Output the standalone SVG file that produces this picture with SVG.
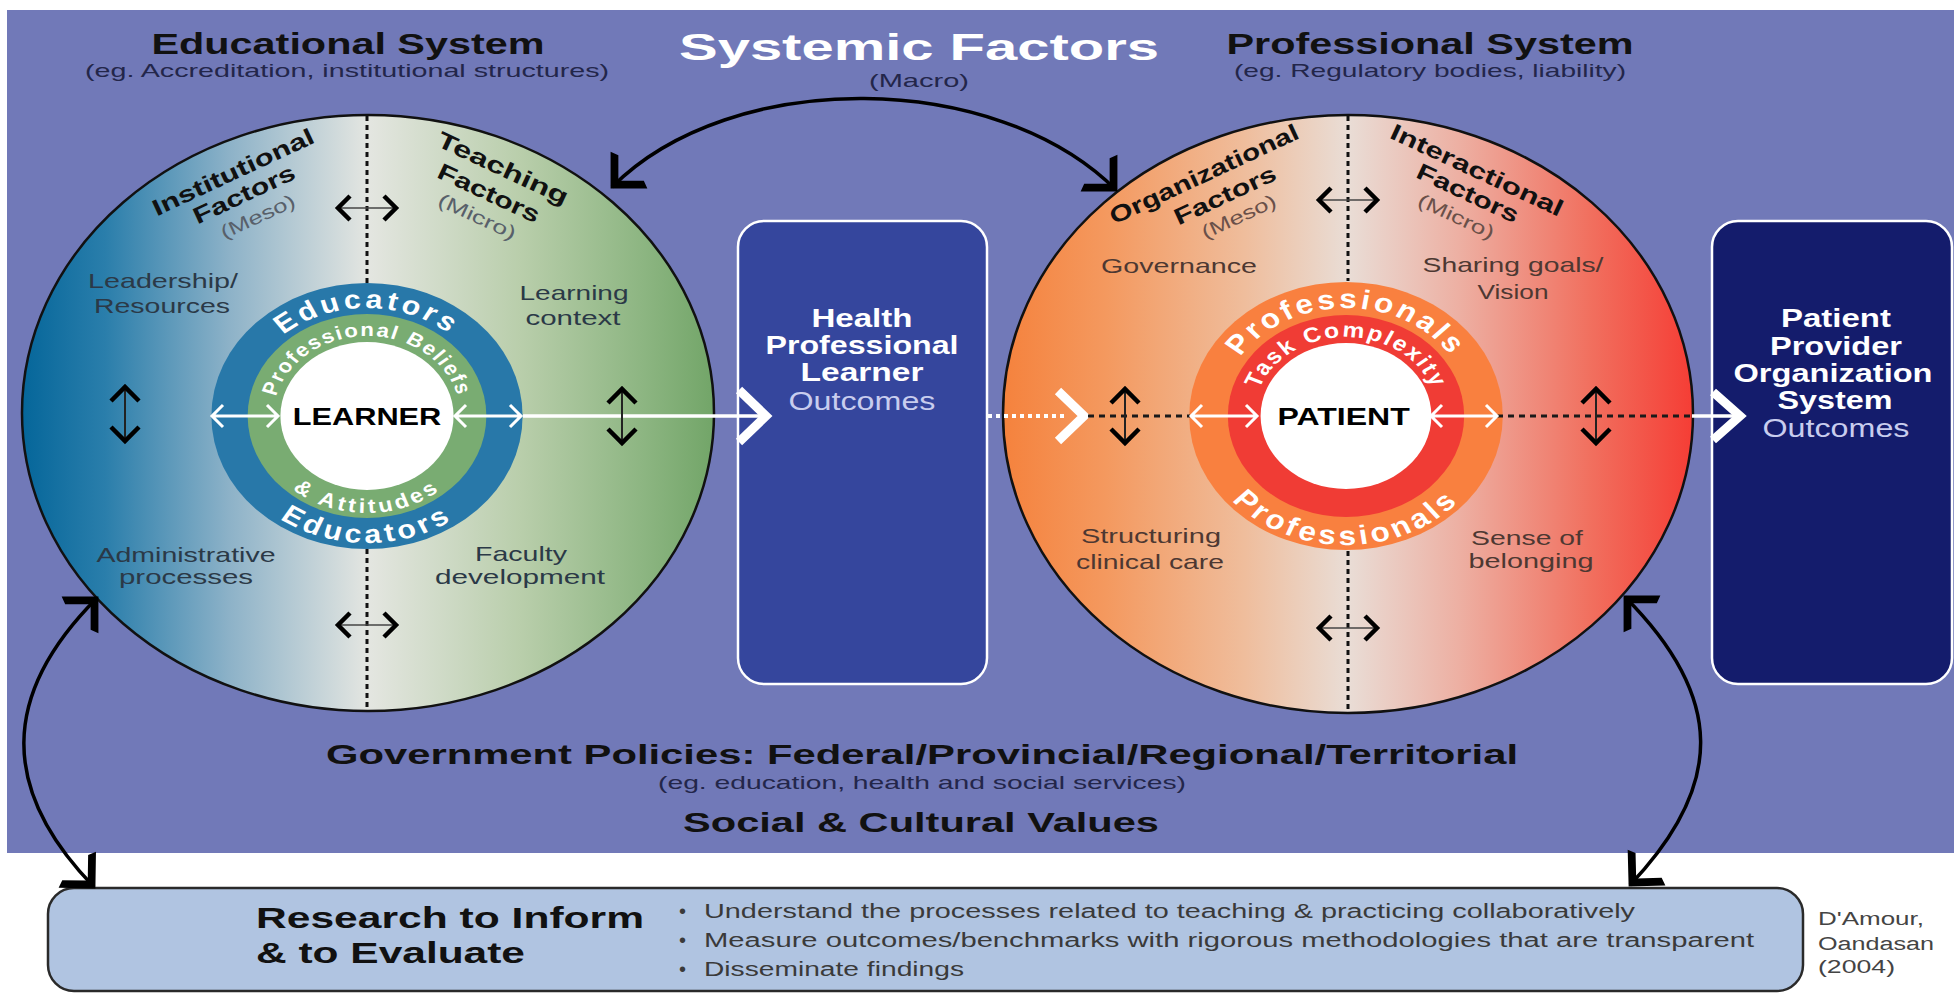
<svg xmlns="http://www.w3.org/2000/svg" width="1954" height="993" viewBox="0 0 1954 993">
<style>
text { font-family: "Liberation Sans", Arial, sans-serif; }
.title { font-size: 30px; font-weight: bold; fill: #111; }
.sub { font-size: 19px; fill: #23264a; }
.lblL { font-size: 21px; fill: #2b3947; }
.lblR { font-size: 21px; fill: #4d3832; }
.rot { font-size: 23px; font-weight: bold; fill: #111; }
.par { font-size: 19px; fill: #58606a; }
.parR { font-size: 19px; fill: #6a5049; }
.ring { font-weight: bold; fill: #fff; }
.box { font-size: 25px; font-weight: bold; fill: #fff; }
.out { font-size: 25px; fill: #c8cdee; }
.gov { font-size: 28px; font-weight: bold; fill: #111; }
.bul { font-size: 20px; fill: #3a3a3a; }
.cite { font-size: 18px; fill: #444; }
.dot { fill: none; stroke: #111; stroke-width: 3; stroke-dasharray: 5 4; }
.arc { fill: none; stroke: #000; stroke-width: 3.5; marker-start: url(#barb); marker-end: url(#barb); }
.wline { fill: none; stroke: #fff; stroke-width: 3.5; }
.chev { fill: none; stroke: #fff; stroke-width: 9; stroke-linejoin: miter; }
.bdash { fill: none; stroke: #1a1a1a; stroke-width: 3; stroke-dasharray: 6 5; }
</style>
<defs>
  <linearGradient id="gEdu" x1="0" y1="0" x2="1" y2="0">
    <stop offset="0" stop-color="#05669a"/>
    <stop offset="0.12" stop-color="#2a7eab"/>
    <stop offset="0.3" stop-color="#8db2c8"/>
    <stop offset="0.5" stop-color="#e4e6e1"/>
    <stop offset="0.72" stop-color="#b9ceab"/>
    <stop offset="0.9" stop-color="#8cb581"/>
    <stop offset="1" stop-color="#72a568"/>
  </linearGradient>
  <linearGradient id="gPro" x1="0" y1="0" x2="1" y2="0">
    <stop offset="0" stop-color="#f5823d"/>
    <stop offset="0.15" stop-color="#f4995f"/>
    <stop offset="0.35" stop-color="#efbd9c"/>
    <stop offset="0.5" stop-color="#e9ddd6"/>
    <stop offset="0.66" stop-color="#edb0a3"/>
    <stop offset="0.85" stop-color="#f1705f"/>
    <stop offset="1" stop-color="#f53d35"/>
  </linearGradient>
  <marker id="barb" markerUnits="userSpaceOnUse" orient="auto-start-reverse" viewBox="-30 -30 40 60" refX="0" refY="0" markerWidth="40" markerHeight="60" style="overflow:visible">
    <path d="M2 0 L-24 -26 L-27 -18 L-9 0 L-27 18 L-24 26 Z" fill="#000"/>
  </marker>
  <g id="dh">
    <path d="M-29 0 H29" stroke="#444" stroke-width="1.5"/>
    <path d="M-17 -12 L-29 0 L-17 12 M17 -12 L29 0 L17 12" fill="none" stroke="#000" stroke-width="4.5"/>
  </g>
  <g id="dv">
    <path d="M0 -26 V26" stroke="#222" stroke-width="2"/>
    <path d="M-14 -13 L0 -27 L14 -13 M-14 13 L0 27 L14 13" fill="none" stroke="#000" stroke-width="4.5"/>
  </g>
  <g id="wda">
    <path d="M1 0 H67 M12 -11 L1 0 L12 11 M56 -11 L67 0 L56 11" fill="none" stroke="#fff" stroke-width="3"/>
  </g>
  <path id="pEduT" d="M-108 0 A108 108 0 0 1 108 0"/>
  <path id="pEduB" d="M-127 0 A127 127 0 0 0 127 0"/>
  <path id="pBelT" d="M-80 0 A80 80 0 0 1 80 0"/>
  <path id="pAttB" d="M-97 0 A97 97 0 0 0 97 0"/>
  <path id="pProT" d="M-108 0 A108 108 0 0 1 108 0"/>
  <path id="pProB" d="M-129 0 A129 129 0 0 0 129 0"/>
  <path id="pTaskT" d="M-79 0 A79 79 0 0 1 79 0"/>
</defs>

<rect x="0" y="0" width="1954" height="993" fill="#fff"/>
<rect id="background" x="7" y="10" width="1947" height="843" fill="#7179b8"/>

<g id="headings">
  <text class="title" x="348" y="54" text-anchor="middle" textLength="393" lengthAdjust="spacingAndGlyphs">Educational System</text>
  <text class="sub" x="347" y="77" text-anchor="middle" textLength="524" lengthAdjust="spacingAndGlyphs">(eg. Accreditation, institutional structures)</text>
  <text x="919" y="60" text-anchor="middle" font-size="36" font-weight="bold" fill="#fff" textLength="480" lengthAdjust="spacingAndGlyphs">Systemic Factors</text>
  <text class="sub" x="919" y="87" text-anchor="middle" textLength="100" lengthAdjust="spacingAndGlyphs">(Macro)</text>
  <text class="title" x="1430" y="54" text-anchor="middle" textLength="407" lengthAdjust="spacingAndGlyphs">Professional System</text>
  <text class="sub" x="1430" y="77" text-anchor="middle" textLength="392" lengthAdjust="spacingAndGlyphs">(eg. Regulatory bodies, liability)</text>
</g>

<g id="educational-circle">
  <ellipse cx="368" cy="413" rx="346" ry="298" fill="url(#gEdu)" stroke="#111" stroke-width="2.5"/>
  <text class="rot" transform="translate(233 172) rotate(-25)" y="8" text-anchor="middle" textLength="176" lengthAdjust="spacingAndGlyphs">Institutional</text>
  <text class="rot" transform="translate(244 194) rotate(-25)" y="8" text-anchor="middle" textLength="110" lengthAdjust="spacingAndGlyphs">Factors</text>
  <text class="par" transform="translate(258 217) rotate(-25)" y="6" text-anchor="middle" textLength="80" lengthAdjust="spacingAndGlyphs">(Meso)</text>
  <text class="rot" transform="translate(503 168) rotate(25)" y="8" text-anchor="middle" textLength="142" lengthAdjust="spacingAndGlyphs">Teaching</text>
  <text class="rot" transform="translate(489 193) rotate(25)" y="8" text-anchor="middle" textLength="110" lengthAdjust="spacingAndGlyphs">Factors</text>
  <text class="par" transform="translate(477 217) rotate(25)" y="6" text-anchor="middle" textLength="84" lengthAdjust="spacingAndGlyphs">(Micro)</text>
  <text class="lblL" x="163" y="288" text-anchor="middle" textLength="150" lengthAdjust="spacingAndGlyphs">Leadership/</text>
  <text class="lblL" x="162" y="313" text-anchor="middle" textLength="136" lengthAdjust="spacingAndGlyphs">Resources</text>
  <text class="lblL" x="574" y="300" text-anchor="middle" textLength="109" lengthAdjust="spacingAndGlyphs">Learning</text>
  <text class="lblL" x="573" y="325" text-anchor="middle" textLength="95" lengthAdjust="spacingAndGlyphs">context</text>
  <text class="lblL" x="186" y="562" text-anchor="middle" textLength="179" lengthAdjust="spacingAndGlyphs">Administrative</text>
  <text class="lblL" x="186" y="584" text-anchor="middle" textLength="134" lengthAdjust="spacingAndGlyphs">processes</text>
  <text class="lblL" x="521" y="561" text-anchor="middle" textLength="92" lengthAdjust="spacingAndGlyphs">Faculty</text>
  <text class="lblL" x="520" y="584" text-anchor="middle" textLength="170" lengthAdjust="spacingAndGlyphs">development</text>
</g>

<g id="learner-rings" transform="translate(367 416) scale(1.17 1)">
  <circle r="133" fill="#2878a9"/>
  <circle r="102" fill="#79ac72"/>
  <circle r="74" fill="#fff"/>
  <text class="ring" font-size="26" letter-spacing="3.2"><textPath href="#pEduT" startOffset="50%" text-anchor="middle">Educators</textPath></text>
  <text class="ring" font-size="26" letter-spacing="3.6"><textPath href="#pEduB" startOffset="50%" text-anchor="middle">Educators</textPath></text>
  <text class="ring" font-size="19" letter-spacing="1.5"><textPath href="#pBelT" startOffset="50%" text-anchor="middle">Professional Beliefs</textPath></text>
  <text class="ring" font-size="20" letter-spacing="3"><textPath href="#pAttB" startOffset="50%" text-anchor="middle">&amp; Attitudes</textPath></text>
  <text x="0" y="9" text-anchor="middle" font-size="24" font-weight="bold" fill="#000" textLength="127" lengthAdjust="spacingAndGlyphs">LEARNER</text>
</g>

<g id="professional-circle">
  <ellipse cx="1348" cy="414" rx="345" ry="299" fill="url(#gPro)" stroke="#111" stroke-width="2.5"/>
  <text class="rot" transform="translate(1204 174) rotate(-25)" y="8" text-anchor="middle" textLength="206" lengthAdjust="spacingAndGlyphs">Organizational</text>
  <text class="rot" transform="translate(1225 195) rotate(-25)" y="8" text-anchor="middle" textLength="110" lengthAdjust="spacingAndGlyphs">Factors</text>
  <text class="parR" transform="translate(1239 217) rotate(-25)" y="6" text-anchor="middle" textLength="80" lengthAdjust="spacingAndGlyphs">(Meso)</text>
  <text class="rot" transform="translate(1477 170) rotate(25)" y="8" text-anchor="middle" textLength="188" lengthAdjust="spacingAndGlyphs">Interactional</text>
  <text class="rot" transform="translate(1468 193) rotate(25)" y="8" text-anchor="middle" textLength="110" lengthAdjust="spacingAndGlyphs">Factors</text>
  <text class="parR" transform="translate(1456 217) rotate(25)" y="6" text-anchor="middle" textLength="82" lengthAdjust="spacingAndGlyphs">(Micro)</text>
  <text class="lblR" x="1179" y="273" text-anchor="middle" textLength="156" lengthAdjust="spacingAndGlyphs">Governance</text>
  <text class="lblR" x="1513" y="272" text-anchor="middle" textLength="181" lengthAdjust="spacingAndGlyphs">Sharing goals/</text>
  <text class="lblR" x="1513" y="299" text-anchor="middle" textLength="71" lengthAdjust="spacingAndGlyphs">Vision</text>
  <text class="lblR" x="1151" y="543" text-anchor="middle" textLength="140" lengthAdjust="spacingAndGlyphs">Structuring</text>
  <text class="lblR" x="1150" y="569" text-anchor="middle" textLength="148" lengthAdjust="spacingAndGlyphs">clinical care</text>
  <text class="lblR" x="1527" y="545" text-anchor="middle" textLength="112" lengthAdjust="spacingAndGlyphs">Sense of</text>
  <text class="lblR" x="1531" y="568" text-anchor="middle" textLength="125" lengthAdjust="spacingAndGlyphs">belonging</text>
</g>

<g id="patient-rings" transform="translate(1346 416) scale(1.17 1)">
  <circle r="134" fill="#f9803f"/>
  <circle r="101" fill="#f03c35"/>
  <circle r="73" fill="#fff"/>
  <text class="ring" font-size="27" letter-spacing="2.8"><textPath href="#pProT" startOffset="50%" text-anchor="middle">Professionals</textPath></text>
  <text class="ring" font-size="27" letter-spacing="3.4"><textPath href="#pProB" startOffset="50%" text-anchor="middle">Professionals</textPath></text>
  <text class="ring" font-size="21" letter-spacing="1.8"><textPath href="#pTaskT" startOffset="50%" text-anchor="middle">Task Complexity</textPath></text>
  <text x="-2" y="9" text-anchor="middle" font-size="24" font-weight="bold" fill="#000" textLength="113" lengthAdjust="spacingAndGlyphs">PATIENT</text>
</g>

<g id="hpl-outcomes">
  <rect x="738" y="221" width="249" height="463" rx="26" fill="#35469d" stroke="#fff" stroke-width="2.5"/>
  <text class="box" x="862" y="327" text-anchor="middle" textLength="101" lengthAdjust="spacingAndGlyphs">Health</text>
  <text class="box" x="862" y="354" text-anchor="middle" textLength="193" lengthAdjust="spacingAndGlyphs">Professional</text>
  <text class="box" x="862" y="381" text-anchor="middle" textLength="123" lengthAdjust="spacingAndGlyphs">Learner</text>
  <text class="out" x="862" y="410" text-anchor="middle" textLength="147" lengthAdjust="spacingAndGlyphs">Outcomes</text>
</g>

<g id="ppos-outcomes">
  <rect x="1712" y="221" width="240" height="463" rx="26" fill="#141c6c" stroke="#fff" stroke-width="2.5"/>
  <text class="box" x="1836" y="327" text-anchor="middle" textLength="110" lengthAdjust="spacingAndGlyphs">Patient</text>
  <text class="box" x="1836" y="355" text-anchor="middle" textLength="132" lengthAdjust="spacingAndGlyphs">Provider</text>
  <text class="box" x="1833" y="382" text-anchor="middle" textLength="199" lengthAdjust="spacingAndGlyphs">Organization</text>
  <text class="box" x="1835" y="409" text-anchor="middle" textLength="115" lengthAdjust="spacingAndGlyphs">System</text>
  <text class="out" x="1836" y="437" text-anchor="middle" textLength="147" lengthAdjust="spacingAndGlyphs">Outcomes</text>
</g>

<g id="government">
  <text class="gov" x="922" y="764" text-anchor="middle" textLength="1192" lengthAdjust="spacingAndGlyphs">Government Policies: Federal/Provincial/Regional/Territorial</text>
  <text class="sub" x="922" y="789" text-anchor="middle" textLength="528" lengthAdjust="spacingAndGlyphs">(eg. education, health and social services)</text>
  <text class="gov" x="921" y="832" text-anchor="middle" textLength="476" lengthAdjust="spacingAndGlyphs">Social &amp; Cultural Values</text>
</g>

<g id="research">
  <rect x="48" y="888" width="1755" height="103" rx="26" fill="#b0c4e1" stroke="#2a2a2a" stroke-width="2.5"/>
  <text x="256" y="928" font-size="30" font-weight="bold" fill="#111" textLength="388" lengthAdjust="spacingAndGlyphs">Research to Inform</text>
  <text x="256" y="963" font-size="30" font-weight="bold" fill="#111" textLength="269" lengthAdjust="spacingAndGlyphs">&amp; to Evaluate</text>
  <text class="bul" x="679" y="918">•</text>
  <text class="bul" x="704" y="918" textLength="931" lengthAdjust="spacingAndGlyphs">Understand the processes related to teaching &amp; practicing collaboratively</text>
  <text class="bul" x="679" y="947">•</text>
  <text class="bul" x="704" y="947" textLength="1050" lengthAdjust="spacingAndGlyphs">Measure outcomes/benchmarks with rigorous methodologies that are transparent</text>
  <text class="bul" x="679" y="976">•</text>
  <text class="bul" x="704" y="976" textLength="260" lengthAdjust="spacingAndGlyphs">Disseminate findings</text>
</g>

<g id="citation">
  <text class="cite" x="1818" y="925" textLength="106" lengthAdjust="spacingAndGlyphs">D'Amour,</text>
  <text class="cite" x="1818" y="950" textLength="116" lengthAdjust="spacingAndGlyphs">Oandasan</text>
  <text class="cite" x="1818" y="973" textLength="77" lengthAdjust="spacingAndGlyphs">(2004)</text>
</g>

<g id="connectors">
  <path class="arc" d="M612 187 C732 67 996 70 1116 190"/>
  <path class="arc" d="M97 598 C0 695 0 790 94 887"/>
  <path class="arc" d="M1625 597 C1725 697 1725 785 1630 885"/>
  <path class="dot" d="M367 116 V284 M367 549 V711"/>
  <path class="dot" d="M1348 116 V281 M1348 551 V713"/>
  <use href="#dh" x="367" y="208"/>
  <use href="#dh" x="367" y="625"/>
  <use href="#dh" x="1348" y="200"/>
  <use href="#dh" x="1348" y="628"/>
  <path class="wline" d="M523 416 H762"/>
  <use href="#wda" x="211" y="416"/>
  <use href="#wda" x="454" y="416"/>
  <use href="#dv" x="125" y="414"/>
  <use href="#dv" x="622" y="416"/>
  <path class="chev" d="M739 390 L766 416 L739 442"/>
  <path d="M988 416 H1064" fill="none" stroke="#fff" stroke-width="4" stroke-dasharray="4 4"/>
  <path class="chev" d="M1058 391 L1084 416 L1058 441"/>
  <path class="bdash" d="M1088 416 H1190"/>
  <path class="bdash" d="M1497 416 H1692"/>
  <use href="#wda" x="1190" y="416"/>
  <use href="#wda" x="1430" y="416"/>
  <use href="#dv" x="1125" y="416"/>
  <use href="#dv" x="1596" y="416"/>
  <path class="wline" d="M1692 416 H1736"/>
  <path class="chev" d="M1713 392 L1740 416 L1713 440"/>
</g>
</svg>
